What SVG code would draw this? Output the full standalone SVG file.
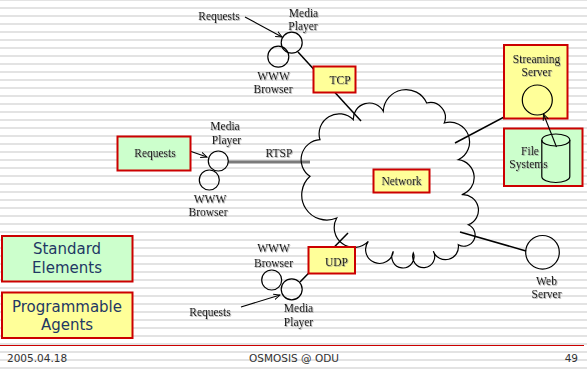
<svg xmlns="http://www.w3.org/2000/svg" width="587" height="370" viewBox="0 0 587 370">
  <defs>
    <pattern id="stripes" x="0" y="7" width="8" height="8" patternUnits="userSpaceOnUse">
      <rect x="0" y="0" width="8" height="8" fill="#ffffff"/>
      <rect x="0" y="0" width="8" height="2" fill="#e3e3e3"/>
    </pattern>
    <marker id="arrow" viewBox="0 0 10 10" refX="9" refY="5" markerWidth="7" markerHeight="7" orient="auto" markerUnits="userSpaceOnUse">
      <path d="M0,1 L9,5 L0,9" fill="none" stroke="#000" stroke-width="1.4"/>
    </marker>
    <filter id="emboss" x="-10%" y="-20%" width="130%" height="150%">
      <feDropShadow dx="0.8" dy="0.8" stdDeviation="0.3" flood-color="#888" flood-opacity="0.8"/>
    </filter>
  </defs>
  <style>
    .lbl { font-family: "Liberation Serif", "Times New Roman", serif; font-size: 11.5px; fill: #111; text-anchor: middle; filter: url(#emboss); }
    .legend { font-family: "DejaVu Sans", Verdana, sans-serif; font-size: 15px; fill: #1f3864; text-anchor: middle; }
    .foot { font-family: "DejaVu Sans", Verdana, sans-serif; font-size: 10.5px; fill: #333; }
    .node { fill: none; stroke: #000; stroke-width: 1.2; }
    .yellow { fill: #ffff99; stroke: #cc0000; stroke-width: 2; }
    .green { fill: #ccffcc; stroke: #cc0000; stroke-width: 2; }
    .link { stroke: #000; stroke-width: 1.5; fill: none; }
    .req { stroke: #000; stroke-width: 1.1; fill: none; marker-end: url(#arrow); }
  </style>

  <!-- striped slide background -->
  <rect x="0" y="0" width="587" height="370" fill="url(#stripes)"/>

  <!-- connectors -->
  <g id="connectors">
    <line class="link" x1="298" y1="52" x2="361" y2="121"/>
    <line x1="228" y1="162" x2="310" y2="162" stroke="#7a7a7a" stroke-width="3"/>
    <line class="link" x1="455" y1="143" x2="523" y2="107"/>
    <line class="link" x1="460" y1="232" x2="526" y2="251"/>
    <line class="link" x1="300" y1="282" x2="348" y2="233"/>
    <line class="req" x1="245" y1="17" x2="282" y2="37"/>
    <line class="req" x1="181" y1="148" x2="207" y2="157"/>
    <line class="req" x1="241" y1="307" x2="280" y2="295"/>
  </g>

  <!-- network cloud -->
  <g id="network">
    <path class="node" d="M320,139.7 A20,20 0 0 1 353.3,119.7 A16,16 0 0 1 383.3,111.3 A22.7,22.7 0 0 1 426.7,103 A15,15 0 0 1 444.3,123 A19.7,19.7 0 0 1 458.3,159.7 A18,18 0 0 1 461.7,194.7 A15.5,15.5 0 0 1 468.3,224.7 A11.2,11.2 0 1 1 458.3,244.7 A13,13 0 0 1 433.3,251.3 A11,11 0 1 1 413.3,253 A11.1,11.1 0 1 1 393.3,251.3 A13.9,13.9 0 1 1 368.3,241.3 A19.8,19.8 0 0 1 336.7,218 A25.1,25.1 0 0 1 310,176.3 A20,20 0 0 1 320,139.7 Z"/>
    <rect class="yellow" x="373.5" y="169.5" width="56" height="23"/>
    <text class="lbl" x="401.5" y="185">Network</text>
  </g>

  <!-- top client: media player + browser -->
  <g id="client-top">
    <circle class="node" cx="291.7" cy="42.7" r="10.5"/>
    <circle class="node" cx="278.3" cy="56.7" r="10.5"/>
    <text class="lbl" x="219" y="20">Requests</text>
    <text class="lbl" x="303.5" y="16.5">Media</text>
    <text class="lbl" x="303" y="30">Player</text>
    <text class="lbl" x="273.5" y="79.5">WWW</text>
    <text class="lbl" x="273" y="93">Browser</text>
  </g>
  <g id="tcp">
    <rect class="yellow" x="313.5" y="66.5" width="42" height="26"/>
    <text class="lbl" x="340" y="84">TCP</text>
  </g>

  <!-- middle client -->
  <g id="client-middle">
    <rect class="green" x="117.5" y="136.5" width="73" height="34"/>
    <text class="lbl" x="155" y="157">Requests</text>
    <circle class="node" cx="218.3" cy="161" r="10"/>
    <circle class="node" cx="209.3" cy="180" r="10"/>
    <text class="lbl" x="225" y="130">Media</text>
    <text class="lbl" x="226.5" y="144">Player</text>
    <text class="lbl" x="210" y="202.5">WWW</text>
    <text class="lbl" x="208" y="216">Browser</text>
    <text class="lbl" x="279" y="157">RTSP</text>
  </g>

  <!-- bottom client -->
  <g id="client-bottom">
    <circle class="node" cx="271.7" cy="280" r="10"/>
    <circle class="node" cx="291.7" cy="289.3" r="10.5"/>
    <text class="lbl" x="273.5" y="252">WWW</text>
    <text class="lbl" x="273.5" y="267">Browser</text>
    <text class="lbl" x="298.5" y="312">Media</text>
    <text class="lbl" x="298.5" y="325.5">Player</text>
    <text class="lbl" x="210" y="316">Requests</text>
  </g>
  <g id="udp">
    <rect class="yellow" x="308.5" y="247" width="46.5" height="26.5"/>
    <text class="lbl" x="336.5" y="266">UDP</text>
  </g>

  <!-- streaming server -->
  <g id="streaming-server">
    <rect class="yellow" x="504" y="45" width="63.5" height="73.5"/>
    <text class="lbl" x="536.5" y="62.5">Streaming</text>
    <text class="lbl" x="536.5" y="76">Server</text>
    <circle cx="537.3" cy="100" r="15" fill="#ffff99" stroke="#000" stroke-width="1.2"/>
  </g>

  <!-- file systems -->
  <g id="file-systems">
    <rect class="green" x="504" y="128.5" width="78.5" height="57.5"/>
    <path d="M541.8,140 L541.8,176.5 A14,6 0 0 0 569.8,176.5 L569.8,140" fill="none" stroke="#000" stroke-width="1.2"/>
    <ellipse cx="555.8" cy="140" rx="14" ry="6" fill="none" stroke="#000" stroke-width="1.2"/>
    <text class="lbl" x="530" y="154.5">File</text>
    <text class="lbl" x="528.5" y="168">Systems</text>
    <line class="req" x1="556.5" y1="147" x2="543.5" y2="114"/>
  </g>

  <!-- web server -->
  <g id="web-server">
    <circle class="node" cx="542.5" cy="252.3" r="16.8"/>
    <text class="lbl" x="546.5" y="284.5">Web</text>
    <text class="lbl" x="546.5" y="298">Server</text>
  </g>

  <!-- legend -->
  <g id="legend-standard">
    <rect class="green" x="2" y="236" width="130.5" height="45.5"/>
    <text class="legend" x="67" y="254">Standard</text>
    <text class="legend" x="67" y="273">Elements</text>
  </g>
  <g id="legend-programmable">
    <rect class="yellow" x="2" y="292.5" width="130.5" height="45.5"/>
    <text class="legend" x="67" y="312">Programmable</text>
    <text class="legend" x="67" y="330">Agents</text>
  </g>

  <!-- footer -->
  <g id="footer">
    <line x1="0" y1="345.5" x2="584" y2="345.5" stroke="#cc0000" stroke-width="1"/>
    <text class="foot" x="7" y="362">2005.04.18</text>
    <text class="foot" x="294" y="362" text-anchor="middle">OSMOSIS @ ODU</text>
    <text class="foot" x="578" y="362" text-anchor="end">49</text>
  </g>
</svg>
